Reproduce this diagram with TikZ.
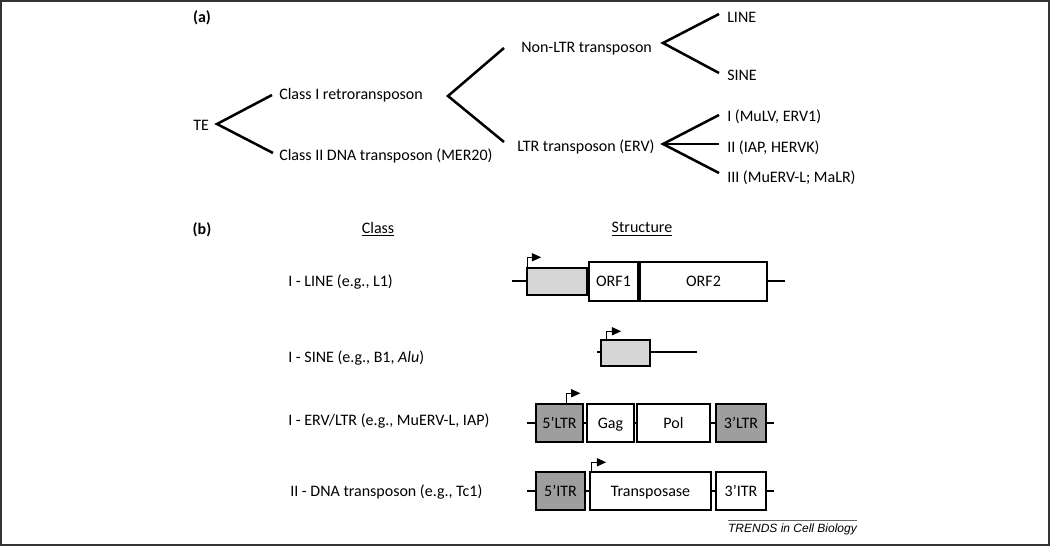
\documentclass[tikz,border=0pt]{standalone}
\usepackage{fontspec}
\setmainfont{Carlito}
\newfontfamily\trendsfont{Liberation Sans}
\usetikzlibrary{calc,arrows.meta}
\def\pxu{0.75pt}
\tikzset{
  branch/.style={line width=1.9pt},
  lbl/.style={anchor=west, inner sep=0pt, text height=7.7pt, text depth=0pt, font=\fontsize{12}{14}\selectfont},
  head/.style={inner sep=0pt, text height=7.7pt, text depth=0pt, font=\fontsize{12}{14}\selectfont\bfseries},
  elem/.style={draw, line width=1.1pt, inner sep=0pt, text height=7.7pt, text depth=0pt, fill=white, font=\fontsize{12}{14}\selectfont},
  lightelem/.style={elem, fill=black!16},
  darkelem/.style={elem, fill=black!38},
  backbone/.style={line width=1.4pt},
  prom/.style={line width=1.1pt, -{Triangle[length=7pt, width=6pt]}},
}

\begin{document}
\begin{tikzpicture}[x=\pxu, y=-\pxu]
			%%%%% FRAME %%%%%
			\useasboundingbox (0, 0) rectangle (1050, 546);
			\draw[line width=1.8pt, black!80] (1, 1) rectangle (1049, 545);
			
			%%%%% (a) %%%%%
			\node[head] (lbla) at (202, 17) {(a)};
			\node[lbl] (te) at (193, 125) {TE};
			\node[lbl] (cl1) at (279, 94) {Class I retroransposon};
			\node[lbl] (cl2) at (279, 155) {Class II DNA transposon (MER20)};
			\node[lbl] (nonltr) at (521, 47) {Non-LTR transposon};
			\node[lbl] (ltr) at (517, 146) {LTR transposon (ERV)};
			\node[lbl] (line) at (727, 17) {LINE};
			\node[lbl] (sine) at (727, 75) {SINE};
			\node[lbl] (erv1) at (727, 116) {I (MuLV, ERV1)};
			\node[lbl] (erv2) at (727, 147) {II (IAP, HERVK)};
			\node[lbl] (erv3) at (727, 177) {III (MuERV-L; MaLR)};
			
			\coordinate (vte) at (217, 124);
			\coordinate (vret) at (448, 96);
			\coordinate (vnon) at (663, 43);
			\coordinate (vltr) at (663, 144);
			
			\draw[branch] ($(cl1.west)+(-7, 1)$) -- (vte) -- ($(cl2.west)+(-6, -2)$);
			\draw[branch] ($(nonltr.west)+(-17, 1)$) -- (vret) -- ($(ltr.west)+(-13, -4)$);
			\draw[branch] ($(line.west)+(-8, -3)$) -- (vnon) -- ($(sine.west)+(-8, -2)$);
			\draw[branch] ($(erv1.west)+(-8, -1)$) -- (vltr) -- ($(erv3.west)+(-8, -4)$);
			\draw[branch] (vltr) -- ($(erv2.west)+(-8, -3)$);
			
			%%%%% (b) %%%%%
			\node[head] (lblb) at (202, 229) {(b)};
			\node[inner sep=0pt, font=\fontsize{12}{14}\selectfont] (hclass) at (378, 229) {\underline{Class}};
			\node[inner sep=0pt, font=\fontsize{12}{14}\selectfont] (hstruct) at (642, 229) {\underline{Structure}};
			
			\node[lbl] (cline) at (288, 281) {I - LINE (e.g., L1)};
			\node[lbl] (csine) at (288, 357) {I - SINE (e.g., B1, \textit{Alu})};
			\node[lbl] (cerv) at (288, 420) {I - ERV/LTR (e.g., MuERV-L, IAP)};
			\node[lbl] (cdna) at (290, 491) {II - DNA transposon (e.g., Tc1)};
			
			% LINE
			\coordinate (l1a) at (512, 281);
			\coordinate (l1b) at (785, 281);
			\draw[backbone] (l1a) -- (l1b);
			\node[lightelem, minimum width=60*\pxu, minimum height=27*\pxu] (l1p) at (557, 281.5) {};
			\node[elem, minimum width=49*\pxu, minimum height=39*\pxu] (orf1) at (613.5, 281.5) {ORF1};
			\node[elem, minimum width=127*\pxu, minimum height=39*\pxu] (orf2) at (703.5, 281.5) {ORF2};
			\draw[prom] ($(l1p.north west)+(1, 0)$) -- ++(0, -10) -- ++(14, 0);
			
			% SINE
			\coordinate (s1a) at (597, 352);
			\coordinate (s1b) at (697, 352);
			\draw[backbone] (s1a) -- (s1b);
			\node[lightelem, minimum width=49*\pxu, minimum height=26*\pxu] (b1) at (625.5, 353) {};
			\draw[prom] ($(b1.north west)+(6, 0)$) -- ++(0, -8) -- ++(15, 0);
			
			% ERV / LTR
			\coordinate (e1a) at (527, 423);
			\coordinate (e1b) at (774, 423);
			\draw[backbone] (e1a) -- (e1b);
			\node[darkelem, minimum width=47*\pxu, minimum height=38*\pxu] (ltr5) at (559.5, 423) {5’LTR};
			\node[elem, minimum width=47*\pxu, minimum height=38*\pxu] (gag) at (610.5, 423) {Gag};
			\node[elem, minimum width=73*\pxu, minimum height=38*\pxu] (pol) at (673.5, 423) {Pol};
			\node[darkelem, minimum width=50*\pxu, minimum height=38*\pxu] (ltr3) at (741, 423) {3’LTR};
			\draw[prom] ($(ltr5.north)+(7, 0)$) -- ++(0, -10) -- ++(14, 0);
			
			% DNA transposon
			\coordinate (d1a) at (527, 491);
			\coordinate (d1b) at (774, 491);
			\draw[backbone] (d1a) -- (d1b);
			\node[darkelem, minimum width=49*\pxu, minimum height=38*\pxu] (itr5) at (560.5, 491) {5’ITR};
			\node[elem, minimum width=121*\pxu, minimum height=38*\pxu] (tpase) at (650.5, 491) {Transposase};
			\node[elem, minimum width=50*\pxu, minimum height=38*\pxu] (itr3) at (741, 491) {3’ITR};
			\draw[prom] ($(tpase.north west)+(2, 0)$) -- ++(0, -9) -- ++(15, 0);
			
			%%%%% FOOTER %%%%%
			\node[inner sep=0pt, font=\trendsfont\fontsize{9}{11}\selectfont\itshape] (trends) at (792.5, 529) {TRENDS in Cell Biology};
			\draw[line width=0.4pt, black!60] ($(trends.north west)+(0, -3)$) -- ($(trends.north east)+(0, -3)$);
		\end{tikzpicture}
\end{document}
